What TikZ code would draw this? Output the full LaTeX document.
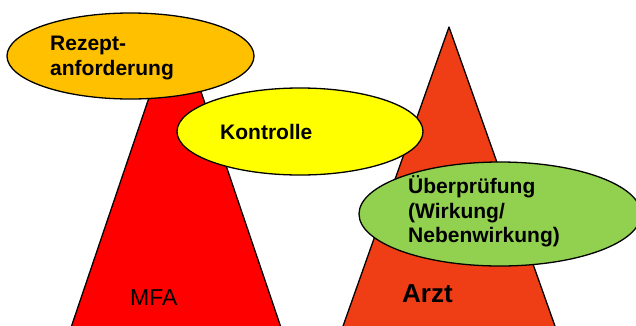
\documentclass[tikz,border=0pt]{standalone}
\usepackage{fontspec}
\setmainfont{Liberation Sans}
\usetikzlibrary{shapes.geometric}
\definecolor{mfared}{HTML}{FF0000}
\definecolor{arztred}{HTML}{EF3D16}
\definecolor{rezorange}{HTML}{FFC000}
\definecolor{kontyellow}{HTML}{FFFF00}
\definecolor{uebgreen}{HTML}{92D050}
\tikzset{
  shapeline/.style={draw=black, line width=1.3pt, line join=round},
  blob/.style={ellipse, shapeline, inner sep=0pt},
  lbl/.style={anchor=base west, inner sep=0pt, font=\fontsize{21}{25}\selectfont\bfseries}
}
\begin{document}
\begin{tikzpicture}[x=1pt,y=-1pt]
\useasboundingbox (0,0) rectangle (636,325);
\clip (0,0) rectangle (636,325);
% MFA triangle
\coordinate (mfatop) at (176,18);
\coordinate (mfabl) at (60,360);
\coordinate (mfabr) at (292,360);
\filldraw[shapeline, fill=mfared] (mfatop) -- (mfabl) -- (mfabr) -- cycle;
% Rezeptanforderung ellipse
\node[blob, fill=rezorange, minimum width=247pt, minimum height=86pt] (rez) at (130.5,56) {};
\node[lbl] (rez1) at (50,50) {Rezept-};
\node[lbl] (rez2) at (50,75) {anforderung};
% Arzt triangle
\coordinate (arzttop) at (449,27);
\coordinate (arztbl) at (331,360);
\coordinate (arztbr) at (567,360);
\filldraw[shapeline, fill=arztred] (arzttop) -- (arztbl) -- (arztbr) -- cycle;
% Kontrolle ellipse
\node[blob, fill=kontyellow, minimum width=246pt, minimum height=87pt] (kon) at (300,131.5) {};
\node[lbl] (kontxt) at (220,139) {Kontrolle};
% Ueberpruefung ellipse
\node[blob, fill=uebgreen, minimum width=282pt, minimum height=104pt] (ueb) at (500,214) {};
\node[lbl] (ueb1) at (408,193) {Überprüfung};
\node[lbl] (ueb2) at (408,218) {(Wirkung/};
\node[lbl] (ueb3) at (408,242) {Nebenwirkung)};
% labels
\node[anchor=base west, inner sep=0pt, font=\fontsize{23}{27}\selectfont] (mfa) at (130,305) {MFA};
\node[anchor=base west, inner sep=0pt, font=\fontsize{26}{30}\selectfont\bfseries] (arzt) at (402,302) {Arzt};
\end{tikzpicture}
\end{document}
